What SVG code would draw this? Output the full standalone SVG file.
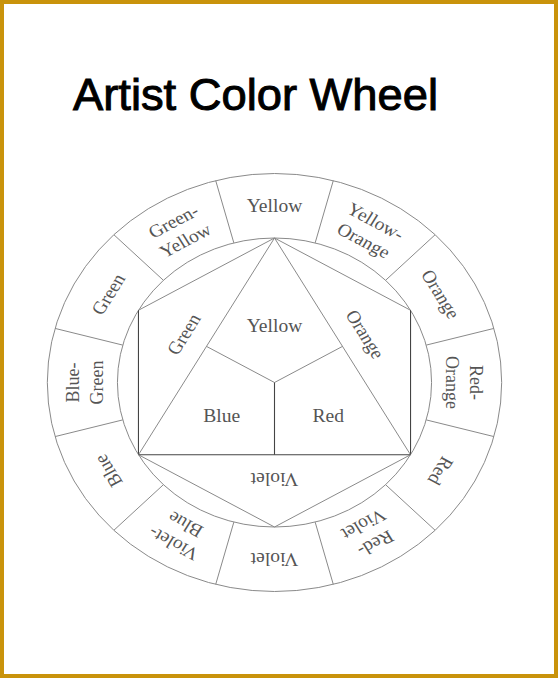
<svg xmlns="http://www.w3.org/2000/svg" width="558" height="678" viewBox="0 0 558 678">
<style>
.ln{fill:none;stroke:#8a8a8a;stroke-width:1;vector-effect:non-scaling-stroke}
.dk{fill:none;stroke:#444;stroke-width:1.1;vector-effect:non-scaling-stroke}
.lb{font-family:"Liberation Serif","DejaVu Serif",serif;font-size:18px;fill:#555;text-anchor:middle}
.title{font-family:"Comic Sans MS","Liberation Sans","DejaVu Sans",sans-serif;font-size:45px;fill:#000;stroke:#000;stroke-width:1}
</style>
<rect x="2" y="2" width="554" height="674" fill="#fff" stroke="#c9930b" stroke-width="4"/>
<text class="title" x="73" y="110" textLength="365" lengthAdjust="spacingAndGlyphs">Artist Color Wheel</text>
<g transform="translate(274.5,382.5) scale(1.087,1)">
  <g id="rings">
    <circle class="ln" cx="0" cy="0" r="209"/>
    <circle class="ln" cx="0" cy="0" r="144.5"/>
  </g>
  <g id="connectors">
    <line class="ln" x1="37.40" y1="-139.58" x2="54.09" y2="-201.88"/>
    <line class="ln" x1="102.18" y1="-102.18" x2="147.79" y2="-147.79"/>
    <line class="ln" x1="139.58" y1="-37.40" x2="201.88" y2="-54.09"/>
    <line class="ln" x1="139.58" y1="37.40" x2="201.88" y2="54.09"/>
    <line class="ln" x1="102.18" y1="102.18" x2="147.79" y2="147.79"/>
    <line class="ln" x1="37.40" y1="139.58" x2="54.09" y2="201.88"/>
    <line class="ln" x1="-37.40" y1="139.58" x2="-54.09" y2="201.88"/>
    <line class="ln" x1="-102.18" y1="102.18" x2="-147.79" y2="147.79"/>
    <line class="ln" x1="-139.58" y1="37.40" x2="-201.88" y2="54.09"/>
    <line class="ln" x1="-139.58" y1="-37.40" x2="-201.88" y2="-54.09"/>
    <line class="ln" x1="-102.18" y1="-102.18" x2="-147.79" y2="-147.79"/>
    <line class="ln" x1="-37.40" y1="-139.58" x2="-54.09" y2="-201.88"/>
    <polyline class="ln" points="-125.14,72.25 -125.14,-72.25 0,-144.5 125.14,-72.25 125.14,72.25"/>
    <line class="dk" x1="-125.14" y1="-72.25" x2="-125.14" y2="72.25"/>
    <line class="dk" x1="125.14" y1="-72.25" x2="125.14" y2="72.25"/>
    <polyline class="ln" points="-125.14,72.25 0,144.5 125.14,72.25"/>
    <polyline class="ln" points="-125.14,72.25 0,-144.5 125.14,72.25"/>
    <line class="dk" x1="-125.14" y1="72.25" x2="125.14" y2="72.25"/>
    <line class="ln" x1="0" y1="0" x2="-62.57" y2="-36.125"/>
    <line class="ln" x1="0" y1="0" x2="62.57" y2="-36.125"/>
    <line class="dk" x1="0" y1="0" x2="0" y2="72.25"/>
  </g>
  <g id="seg-yellow"><text class="lb" x="0" y="-170.5">Yellow</text></g>
  <g id="seg-yellow-orange" transform="rotate(30)"><text class="lb" x="0" y="-180">Yellow-</text><text class="lb" x="0" y="-158">Orange</text></g>
  <g id="seg-orange" transform="rotate(60)"><text class="lb" x="0" y="-170.5">Orange</text></g>
  <g id="seg-red-orange" transform="rotate(90)"><text class="lb" x="0" y="-180">Red-</text><text class="lb" x="0" y="-158">Orange</text></g>
  <g id="seg-red" transform="rotate(120)"><text class="lb" x="0" y="-170.5">Red</text></g>
  <g id="seg-red-violet" transform="rotate(150)"><text class="lb" x="0" y="-180">Red-</text><text class="lb" x="0" y="-158">Violet</text></g>
  <g id="seg-violet" transform="rotate(180)"><text class="lb" x="0" y="-170.5">Violet</text></g>
  <g id="seg-violet-blue" transform="rotate(210)"><text class="lb" x="0" y="-180">Violet-</text><text class="lb" x="0" y="-158">Blue</text></g>
  <g id="seg-blue" transform="rotate(240)"><text class="lb" x="0" y="-170.5">Blue</text></g>
  <g id="seg-blue-green" transform="rotate(270)"><text class="lb" x="0" y="-180">Blue-</text><text class="lb" x="0" y="-158">Green</text></g>
  <g id="seg-green" transform="rotate(300)"><text class="lb" x="0" y="-170.5">Green</text></g>
  <g id="seg-green-yellow" transform="rotate(330)"><text class="lb" x="0" y="-180">Green-</text><text class="lb" x="0" y="-158">Yellow</text></g>
  <g id="in-yellow"><text class="lb" x="0" y="-50.5">Yellow</text></g>
  <g id="in-blue"><text class="lb" x="-48.5" y="39.5">Blue</text></g>
  <g id="in-red"><text class="lb" x="49.5" y="39.5">Red</text></g>
  <g id="in-green" transform="translate(-83.4,-48.2) rotate(-60)"><text class="lb" x="0" y="6">Green</text></g>
  <g id="in-orange" transform="translate(83.4,-48.2) rotate(60)"><text class="lb" x="0" y="6">Orange</text></g>
  <g id="in-violet" transform="translate(0,96.3) rotate(180)"><text class="lb" x="0" y="6">Violet</text></g>
</g>
</svg>
